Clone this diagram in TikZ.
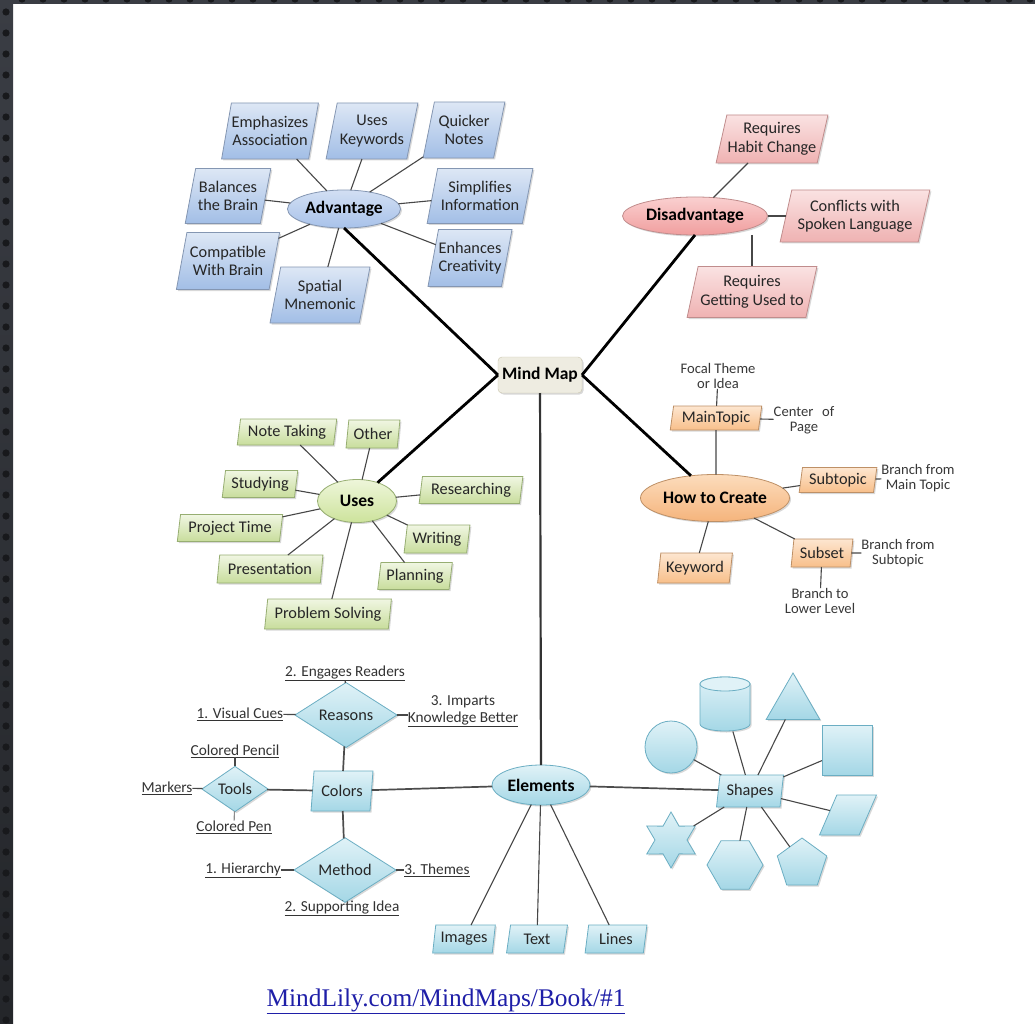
\documentclass[tikz,border=0pt]{standalone}
\usepackage{fontspec}
\setmainfont{Carlito}
\newfontfamily\titlefont{Liberation Serif}
\usetikzlibrary{shapes.geometric,shadows}
\definecolor{bordA}{HTML}{3A3D44}
\definecolor{bordB}{HTML}{24262A}
\definecolor{dotc}{HTML}{18191C}
\definecolor{advtop}{HTML}{DDE7F5}
\definecolor{advbot}{HTML}{A2BEE6}
\definecolor{advline}{HTML}{8496B2}
\definecolor{advEtop}{HTML}{D2DFF3}
\definecolor{advEbot}{HTML}{A8C2EA}
\definecolor{distop}{HTML}{FAE2E2}
\definecolor{disbot}{HTML}{EFB2B2}
\definecolor{disline}{HTML}{C08C8C}
\definecolor{disEtop}{HTML}{FAD0D0}
\definecolor{disEbot}{HTML}{F09E9E}
\definecolor{usetop}{HTML}{F0F6E2}
\definecolor{usebot}{HTML}{C8DD9C}
\definecolor{useline}{HTML}{97AE72}
\definecolor{useEtop}{HTML}{EEF6DA}
\definecolor{useEbot}{HTML}{CDE39C}
\definecolor{htctop}{HTML}{FDE6D0}
\definecolor{htcbot}{HTML}{F8BF8A}
\definecolor{htcline}{HTML}{BE9066}
\definecolor{htcEtop}{HTML}{FCDCBC}
\definecolor{htcEbot}{HTML}{F5B47C}
\definecolor{eltop}{HTML}{E0F2F7}
\definecolor{elbot}{HTML}{A4D7E6}
\definecolor{elline}{HTML}{6BAEC3}
\definecolor{mmfill}{HTML}{EEECE1}
\definecolor{mmline}{HTML}{CBC6AE}
\definecolor{titleblue}{HTML}{1F1FA8}
\tikzset{
  every node/.style={inner sep=0pt, outer sep=0pt, align=center, text=black!85},
  leaf/.style={font=\fontsize{16.3}{18.5}\selectfont},
  head/.style={font=\bfseries\fontsize{17.5}{19}\selectfont, text=black},
  small/.style={font=\fontsize{14.6}{15.5}\selectfont, text=black!78},
  ulbl/.style={font=\fontsize{15.3}{17}\selectfont, text=black!80},
  shad/.style={drop shadow={shadow xshift=1.5pt, shadow yshift=-1.5pt, opacity=0.25, fill=black!60}},
  paraA/.style={trapezium, trapezium left angle=72, trapezium right angle=108, trapezium stretches=true},
  paraB/.style={trapezium, trapezium left angle=79, trapezium right angle=101, trapezium stretches=true},
  advbox/.style={paraA, leaf, shad, draw=advline, line width=0.8pt, top color=advtop, bottom color=advbot},
  disbox/.style={paraA, leaf, shad, draw=disline, line width=0.8pt, top color=distop, bottom color=disbot},
  usebox/.style={paraB, leaf, shad, draw=useline, line width=0.8pt, top color=usetop, bottom color=usebot},
  htcbox/.style={paraB, leaf, shad, draw=htcline, line width=0.8pt, top color=htctop, bottom color=htcbot},
  elbox/.style={paraB, leaf, shad, draw=elline, line width=0.8pt, top color=eltop, bottom color=elbot},
  eldia/.style={diamond, leaf, shad, draw=elline, line width=0.8pt, top color=eltop, bottom color=elbot},
  elshape/.style={shad, draw=elline, line width=0.8pt, top color=eltop, bottom color=elbot},
  headell/.style={ellipse, head, shad, line width=0.8pt},
  conn/.style={draw=black!72, line width=1.1pt},
  midline/.style={draw=black!70, line width=1.7pt},
  mainline/.style={draw=black, line width=2.8pt},
}
\begin{document}
\begin{tikzpicture}[x=1pt,y=-1pt]
\useasboundingbox (0,0) rectangle (1035,1024);
\fill[white] (0,0) rectangle (1035,1024);
% page border
\shade[top color=bordA, bottom color=bordB] (0,0) rectangle (13,1024);
\fill[bordA] (0,0) rectangle (1035,4);
\foreach \yy in {12,33,...,1024} \fill[dotc] (6,\yy) circle (3.6pt);
\begin{scope}
  \clip (13,0) rectangle (1035,4);
  \foreach \xx in {22,43,...,1035} \fill[dotc] (\xx,-1) circle (3.6pt);
\end{scope}

% central node
\node[head, rounded corners=4pt, draw=mmline, fill=mmfill, shad, minimum width=84, minimum height=36] (mm) at (540,375) {Mind Map};

% Advantage
\node[headell, draw=advline, top color=advEtop, bottom color=advEbot, minimum width=113, minimum height=38] (adv) at (344,209) {Advantage};
\node[advbox, minimum width=97, minimum height=56] (a1) at (270,131) {Emphasizes\\Association};
\node[advbox, minimum width=92, minimum height=56] (a2) at (372,131) {Uses\\Keywords};
\node[advbox, minimum width=82, minimum height=56] (a3) at (464,130) {Quicker\\Notes};
\node[advbox, minimum width=86, minimum height=55] (a4) at (228,196) {Balances\\the Brain};
\node[advbox, minimum width=106, minimum height=55] (a5) at (480,196) {Simplifies\\Information};
\node[advbox, minimum width=104, minimum height=57] (a6) at (228,261) {Compatible\\With Brain};
\node[advbox, minimum width=100, minimum height=56] (a7) at (320,295) {Spatial\\Mnemonic};
\node[advbox, minimum width=82, minimum height=57] (a8) at (470,258) {Enhances\\Creativity};
\foreach \n in {a1,a2,a3,a4,a5,a6,a7,a8} \draw[conn] (adv) -- (\n);

% Disadvantage
\node[headell, draw=disline, top color=disEtop, bottom color=disEbot, minimum width=145, minimum height=38] (dis) at (695,216) {Disadvantage};
\node[disbox, minimum width=112, minimum height=48] (d1) at (772,139) {Requires\\Habit Change};
\node[disbox, minimum width=150, minimum height=52] (d2) at (855,216) {Conflicts with\\Spoken Language};
\node[disbox, minimum width=130, minimum height=51] (d3) at (752,292) {Requires\\Getting Used to};
\draw[conn] (dis) -- (d1);
\draw[conn] (dis) -- (d2);
\draw[conn] (dis.south -| d3) -- (d3);

% Uses
\node[headell, draw=useline, top color=useEtop, bottom color=useEbot, minimum width=79, minimum height=43] (uses) at (357,501) {Uses};
\node[usebox, minimum width=100, minimum height=26] (u1) at (287,432) {Note Taking};
\node[usebox, minimum width=54, minimum height=28] (u2) at (373,434) {Other};
\node[usebox, minimum width=76, minimum height=27] (u3) at (260,484) {Studying};
\node[usebox, minimum width=104, minimum height=27] (u4) at (471,490) {Researching};
\node[usebox, minimum width=106, minimum height=27] (u5) at (230,528) {Project Time};
\node[usebox, minimum width=66, minimum height=28] (u6) at (437,539) {Writing};
\node[usebox, minimum width=106, minimum height=28] (u7) at (270,569) {Presentation};
\node[usebox, minimum width=75, minimum height=27] (u8) at (415,576) {Planning};
\node[usebox, minimum width=127, minimum height=30] (u9) at (328,614) {Problem Solving};
\foreach \n in {u1,u2,u3,u4,u5,u6,u7,u8,u9} \draw[conn] (uses) -- (\n);

% How to Create
\node[headell, draw=htcline, top color=htcEtop, bottom color=htcEbot, minimum width=149, minimum height=47] (htc) at (715,498) {How to Create};
\node[small] (h1) at (718,376) {Focal Theme\\or Idea};
\node[htcbox, minimum width=92, minimum height=24] (h2) at (716,418) {MainTopic};
\node[small] (h3) at (804,420) {Center\hspace{0.6em}of\\Page};
\node[htcbox, minimum width=78, minimum height=25] (h4) at (838,480) {Subtopic};
\node[small] (h5) at (918,478) {Branch from\\Main Topic};
\node[htcbox, minimum width=62, minimum height=28] (h6) at (822,553) {Subset};
\node[small] (h7) at (898,553) {Branch from\\Subtopic};
\node[small] (h8) at (820,601) {Branch to\\Lower Level};
\node[htcbox, minimum width=75, minimum height=30] (h9) at (695,568) {Keyword};
\draw[conn] (h1) -- (h2);
\draw[conn] (h2) -- (h3);
\draw[conn] (h2) -- (h2 |- htc.north);
\draw[conn] (htc) -- (h4);
\draw[conn] (h4) -- (h5);
\draw[conn] (htc) -- (h6);
\draw[conn] (h6) -- (h7);
\draw[conn] (h6) -- (h8);
\draw[conn] (htc) -- (h9);

% Elements
\node[headell, draw=elline, top color=eltop, bottom color=elbot, minimum width=98, minimum height=40] (el) at (541,785) {Elements};
\node[ulbl] (e1) at (345,673) {\underline{2. Engages Readers}};
\node[eldia, minimum width=102, minimum height=36] (rea) at (346,715) {Reasons};
\node[ulbl] (e3) at (240,714) {\underline{1. Visual Cues}};
\node[ulbl] (e4) at (463,711) {3. Imparts\\\underline{Knowledge Better}};
\node[ulbl] (e5) at (235,751) {\underline{Colored Pencil}};
\node[eldia, minimum width=66, minimum height=35] (tools) at (235,789) {Tools};
\node[ulbl] (e7) at (167,788) {\underline{Markers}};
\node[ulbl] (e8) at (234,827) {\underline{Colored Pen}};
\node[elbox, minimum width=62, minimum height=40] (col) at (342,791) {Colors};
\node[eldia, minimum width=102, minimum height=38] (met) at (345,870) {Method};
\node[ulbl] (e10) at (243,870) {\underline{1. Hierarchy}};
\node[ulbl] (e11) at (437,870) {\underline{3. Themes}};
\node[ulbl] (e12) at (342,908) {\underline{2. Supporting Idea}};
\node[elbox, minimum width=63, minimum height=28] (im) at (464,939) {Images};
\node[elbox, minimum width=61, minimum height=28] (tx) at (537,939) {Text};
\node[elbox, minimum width=62, minimum height=28] (ln) at (616,939) {Lines};
\node[elbox, minimum width=67, minimum height=32] (sh) at (750,791) {Shapes};
% shapes
\node[elshape, circle, minimum size=52] (s1) at (671,747) {};
\node[minimum width=50, minimum height=55] (s2) at (725,704) {};
\path[elshape] (700,684) -- (700,724) arc[start angle=180, end angle=360, x radius=25pt, y radius=7pt] -- (750,684) arc[start angle=0, end angle=180, x radius=25pt, y radius=7pt] -- cycle;
\draw[draw=elline, line width=0.8pt, fill=eltop] (725,684) ellipse [x radius=25pt, y radius=7pt];
\node[elshape, regular polygon, regular polygon sides=3, minimum size=62] (s3) at (793,704) {};
\node[elshape, rectangle, minimum size=50] (s4) at (847,750) {};
\node[elshape, paraB, inner sep=2pt, minimum width=57, minimum height=40] (s5) at (848,815) {\strut};
\node[elshape, star, star points=6, star point ratio=1.75, minimum size=56] (s6) at (671,840) {};
\node[elshape, regular polygon, regular polygon sides=6, minimum size=56] (s7) at (735,865) {};
\node[elshape, regular polygon, regular polygon sides=5, minimum size=52] (s8) at (802,864) {};

\draw[conn] (e1) -- (rea);
\draw[conn] (e3) -- (rea);
\draw[conn] (rea) -- (e4.west |- rea);
\draw[midline] (rea) -- (col);
\draw[conn] (e5) -- (tools);
\draw[conn] (e7) -- (tools);
\draw[conn, draw=black!45] (tools) -- (e8);
\draw[midline] (tools) -- (col);
\draw[midline] (col) -- (met);
\draw[conn] (e10) -- (met);
\draw[conn] (met) -- (e11);
\draw[conn] (met) -- (e12);
\draw[midline] (col) -- (el);
\draw[conn] (el) -- (im);
\draw[conn] (el) -- (tx);
\draw[conn] (el) -- (ln);
\draw[midline] (el) -- (sh);
\foreach \n in {s1,s2,s3,s4,s5,s6,s7,s8} \draw[conn] (sh) -- (\n);

% main branches
\draw[mainline] (adv.south) -- (mm.west);
\draw[mainline] (uses) -- (mm.west);
\draw[mainline] (dis.south) -- (mm.east);
\draw[mainline] (htc) -- (mm.east);
\draw[mainline, draw=black!80, line width=2.2pt] (mm) -- (el);

% title
\node[font=\titlefont\fontsize{25.4}{28}\selectfont, text=titleblue] (title) at (446,1001) {\underline{MindLily.com/MindMaps/Book/\#1}};
\end{tikzpicture}
\end{document}
